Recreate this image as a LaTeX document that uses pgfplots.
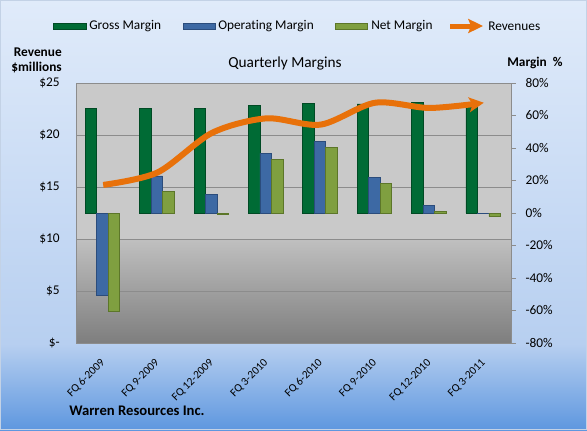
\documentclass[border=0pt]{standalone}
\usepackage{fontspec}
\setmainfont{Carlito}[Ligatures=NoCommon]
\usepackage{pgfplots}
\pgfplotsset{compat=1.18}
\usetikzlibrary{arrows.meta}
\definecolor{bgtop}{HTML}{E0EBFA}
\definecolor{bgmid}{HTML}{B7CFF0}
\definecolor{bgbot}{HTML}{5E97DF}
\definecolor{bgedge}{HTML}{C3D2E6}
\definecolor{pa}{HTML}{C9C9C9}
\definecolor{pb1}{HTML}{C0C0C0}
\definecolor{pb2}{HTML}{8A8A8A}
\definecolor{pb3}{HTML}{7E7E7E}
\definecolor{gross}{HTML}{006B35}
\definecolor{grossd}{HTML}{004A24}
\definecolor{opm}{HTML}{3D69A4}
\definecolor{opmd}{HTML}{2B4C7C}
\definecolor{netm}{HTML}{7F9F40}
\definecolor{netmd}{HTML}{5C7629}
\definecolor{rev}{HTML}{E8710A}
\definecolor{gridc}{HTML}{8C8C8C}
\begin{document}
\begin{tikzpicture}[x=1pt,y=1pt]
\path[use as bounding box] (0,0) rectangle (440.25,322.5);
\fill[bottom color=bgbot, top color=bgmid] (0,0) rectangle (440.25,64.5);
\fill[bottom color=bgmid, top color=bgtop] (0,64.5) rectangle (440.25,322.5);
\draw[bgedge, line width=1pt] (0.5,0.5) rectangle (439.75,322);
% plot area background
\fill[pa] (57,143.25) rectangle (383.25,260.25);
\shade[top color=pb1, middle color=pb2, bottom color=pb3] (57,65.25) rectangle (383.25,143.25);

\begin{axis}[
  at={(57pt,65.25pt)}, anchor=south west, scale only axis,
  width=326.25pt, height=195pt,
  xmin=-0.5, xmax=7.5, ymin=-80, ymax=80,
  axis line style={gridc, line width=0.6pt},
  xtick={0,1,2,3,4,5,6,7},
  xticklabels={FQ 6-2009,FQ 9-2009,FQ 12-2009,FQ 3-2010,FQ 6-2010,FQ 9-2010,FQ 12-2010,FQ 3-2011},
  x tick label style={font=\fontsize{8.5}{10}\selectfont, inner sep=0pt, xshift=0pt, yshift=-10pt, rotate=45, anchor=east},
  x tick style={draw=none},
  ytick={-80,-60,-40,-20,0,20,40,60,80},
  yticklabels={-80\%,-60\%,-40\%,-20\%,0\%,20\%,40\%,60\%,80\%},
  ytick pos=right, xtick pos=bottom,
  tick align=outside, major tick length=3.75pt,
  y tick style={gridc, line width=0.6pt},
  y tick label style={font=\fontsize{10}{12}\selectfont, anchor=west, inner sep=0pt, xshift=7pt},
  extra y ticks={-48,-16,16,48},
  extra y tick labels={},
  extra y tick style={grid=major, major tick length=0pt},
  major grid style={gridc, line width=0.6pt},
]
\addplot[ybar, bar width=8.6pt, bar shift=-9.1pt, fill=gross, draw=grossd, line width=0.5pt]
  coordinates {(0,64.6) (1,64.6) (2,64.6) (3,66.3) (4,67.5) (5,67.1) (6,68.1) (7,67.5)};
\addplot[ybar, bar width=8.6pt, bar shift=-0.5pt, fill=opm, draw=opmd, line width=0.5pt]
  coordinates {(0,-50.5) (1,22.8) (2,11.3) (3,36.7) (4,43.9) (5,21.7) (6,4.5) (7,-0.3)};
\addplot[ybar, bar width=8.6pt, bar shift=8.1pt, fill=netm, draw=netmd, line width=0.5pt]
  coordinates {(0,-60.3) (1,13.1) (2,-0.7) (3,33.0) (4,40.2) (5,18.3) (6,0.8) (7,-2.2)};
\end{axis}

\begin{axis}[
  at={(57pt,65.25pt)}, anchor=south west, scale only axis,
  width=326.25pt, height=195pt,
  xmin=-0.5, xmax=7.5, ymin=0, ymax=25,
  axis line style={draw=none},
  xtick=\empty,
  ytick={0,5,10,15,20,25},
  yticklabels={\$-,\$5,\$10,\$15,\$20,\$25},
  ytick pos=left,
  y tick style={draw=none},
  y tick label style={font=\fontsize{10}{12}\selectfont, anchor=east, inner sep=0pt, xshift=-12pt},
]
\addplot[rev, line width=4.5pt, smooth, -{Stealth[length=11pt, width=11pt, inset=2.5pt]}]
  coordinates {(0,15.2) (1,16.4) (2,20.2) (3,21.6) (4,21.0) (5,23.1) (6,22.6) (7,23.1)};
\end{axis}

% legend
\fill[gross, draw=grossd, line width=0.5pt] (39.75,300.75) rectangle (64.5,305.25);
\node[anchor=west, inner sep=0pt, font=\fontsize{10}{12}\selectfont] at (66.75,303) {Gross Margin};
\fill[opm, draw=opmd, line width=0.5pt] (137.25,300.75) rectangle (161.25,305.25);
\node[anchor=west, inner sep=0pt, font=\fontsize{10}{12}\selectfont] at (163.5,303) {Operating Margin};
\fill[netm, draw=netmd, line width=0.5pt] (251.25,300.75) rectangle (275.25,305.25);
\node[anchor=west, inner sep=0pt, font=\fontsize{10}{12}\selectfont] at (278.25,303) {Net Margin};
\draw[rev, line width=3.75pt, -{Stealth[length=11pt, width=10.5pt, inset=2pt]}] (337.5,303) -- (362.25,303);
\node[anchor=west, inner sep=0pt, font=\fontsize{10}{12}\selectfont] at (366,303) {Revenues};

% titles
\node[font=\fontsize{11.5}{14}\selectfont] at (213.75,275.25) {Quarterly Margins};
\node[font=\bfseries\fontsize{10}{11.25}\selectfont, align=right, anchor=east, inner sep=0pt] at (46.5,277.1) {Revenue\\\$millions};
\node[font=\bfseries\fontsize{10}{12}\selectfont, anchor=west, inner sep=0pt] at (380.25,275.25) {Margin \ \%};
\node[font=\bfseries\fontsize{11}{13}\selectfont, anchor=west, inner sep=0pt] at (51.75,14.25) {Warren Resources Inc.};
\end{tikzpicture}
\end{document}
